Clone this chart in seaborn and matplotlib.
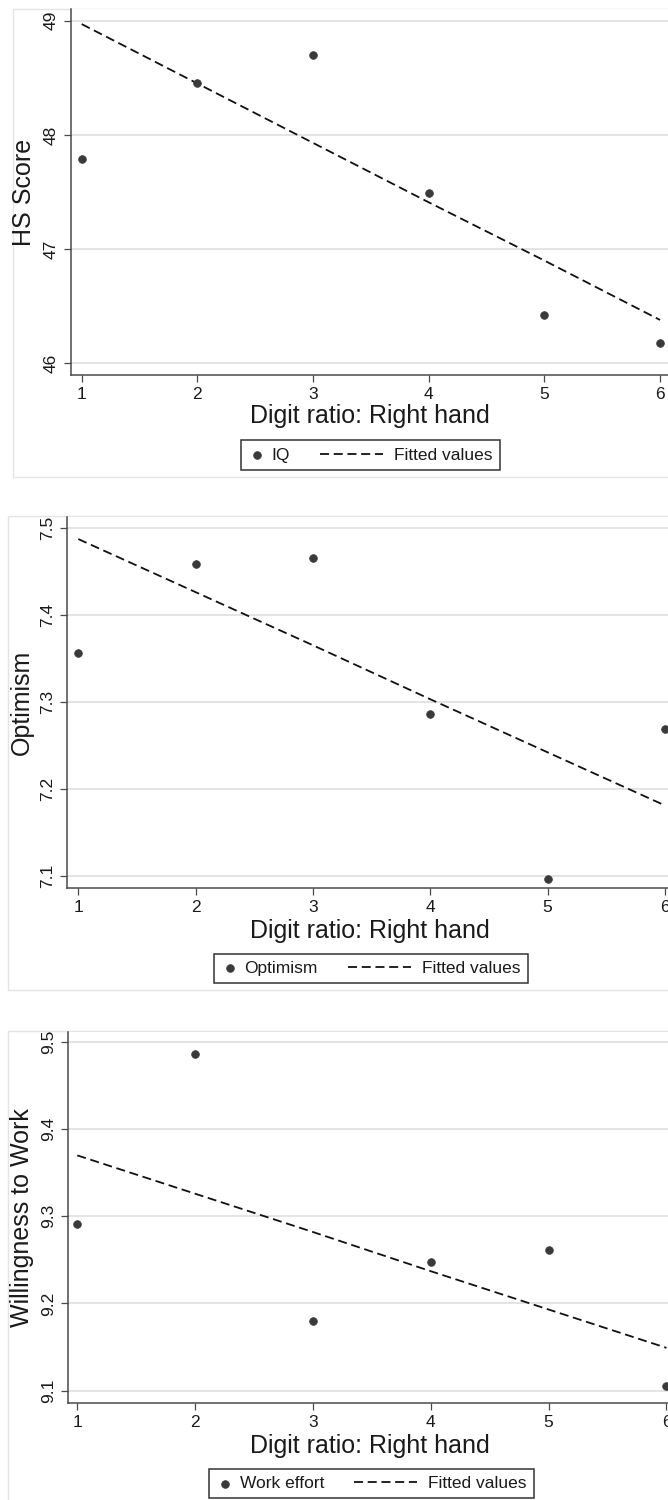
import numpy as np
import pandas as pd
import seaborn as sns
import matplotlib.pyplot as plt
from matplotlib.lines import Line2D
from matplotlib.legend_handler import HandlerLine2D
from matplotlib.patches import Rectangle

# values
digit_ratio = [1, 2, 3, 4, 5, 6]

hs_score = [47.79, 48.45, 48.70, 47.49, 46.42, 46.18]
hs_fitted = [48.97, 48.45, 47.93, 47.41, 46.90, 46.38]
hs_ticks = [46, 47, 48, 49]
hs_ticklabels = ["46", "47", "48", "49"]

optimism = [7.356, 7.458, 7.465, 7.286, 7.097, 7.269]
optimism_fitted = [7.487, 7.426, 7.365, 7.303, 7.242, 7.181]
opt_ticks = [7.1, 7.2, 7.3, 7.4, 7.5]
opt_ticklabels = ["7.1", "7.2", "7.3", "7.4", "7.5"]

work_effort = [9.291, 9.486, 9.180, 9.248, 9.261, 9.105]
work_fitted = [9.370, 9.326, 9.282, 9.237, 9.193, 9.149]
work_ticks = [9.1, 9.2, 9.3, 9.4, 9.5]
work_ticklabels = ["9.1", "9.2", "9.3", "9.4", "9.5"]

x_ticks = [1, 2, 3, 4, 5, 6]
x_label = "Digit ratio: Right hand"

W, H = 668, 1500

sns.set_style("white")
plt.rcParams['font.family'] = ['Liberation Sans', 'DejaVu Sans']

INK = '#1a1a1a'
AXC = '#4a4a4a'
DOT = '#3a3a3a'


class LongDash(HandlerLine2D):
    # dashed legend line that reaches back into the column gap, like Stata's
    def create_artists(self, legend, orig_handle, xdescent, ydescent,
                       width, height, fontsize, trans):
        y = (height - ydescent) / 2
        x1 = -xdescent + width - 0.28 * fontsize
        x0 = x1 - 3.65 * fontsize
        line = Line2D([x0, x1], [y, y])
        self.update_prop(line, orig_handle, legend)
        line.set_transform(trans)
        return [line]


panels = [
    dict(y=hs_score, fit=hs_fitted, name="IQ", ylabel="HS Score",
         ticks=hs_ticks, ticklabels=hs_ticklabels,
         box=(70.7, 671, 9, 375), xlim=(0.905, 6.095), ylim=(45.898, 49.102),
         ylab_x=24.5, xlab_y=416, leg=(370.3, 455), frame=(12.7, 9, 476.7)),
    dict(y=optimism, fit=optimism_fitted, name="Optimism", ylabel="Optimism",
         ticks=opt_ticks, ticklabels=opt_ticklabels,
         box=(67.3, 676, 516.7, 887.7), xlim=(0.906, 6.094), ylim=(7.0865, 7.5127),
         ylab_x=21.6, xlab_y=931, leg=(370.8, 968.4), frame=(8.3, 516, 990)),
    dict(y=work_effort, fit=work_fitted, name="Work effort", ylabel="Willingness to Work",
         ticks=work_ticks, ticklabels=work_ticklabels,
         box=(67.7, 676, 1031.7, 1402.7), xlim=(0.919, 6.081), ylim=(9.086, 9.512),
         ylab_x=21.6, xlab_y=1445.5, leg=(371.4, 1483.5), frame=(8.3, 1031, 1520)),
]

fig = plt.figure(figsize=(W / 100, H / 100), dpi=100)
fig.patch.set_facecolor('white')

for p in panels:
    fx0, ftop, fbot = p['frame']
    fig.add_artist(Rectangle((fx0 / W, 1 - fbot / H), (W + 20 - fx0) / W, (fbot - ftop) / H,
                             transform=fig.transFigure, fill=False,
                             ec='#e4e4e4', lw=1.0, zorder=0))

    l, r, t, b = p['box']
    ax = fig.add_axes([l / W, 1 - b / H, (r - l) / W, (b - t) / H])
    ax.set_facecolor('white')

    sns.scatterplot(x=digit_ratio, y=p['y'], ax=ax, color=DOT, s=30,
                    edgecolor=DOT, linewidth=0.6, label=p['name'], zorder=3)
    sns.lineplot(x=digit_ratio, y=p['fit'], ax=ax, color='#111111', lw=1.3,
                 linestyle=(0, (5.0, 2.6)), errorbar=None,
                 label="Fitted values", zorder=2)

    ax.set_xlim(*p['xlim'])
    ax.set_ylim(*p['ylim'])
    ax.set_xticks(x_ticks)
    ax.set_xticklabels([str(v) for v in x_ticks])
    ax.set_yticks(p['ticks'])
    ax.set_yticklabels(p['ticklabels'])

    ax.set_axisbelow(True)
    ax.yaxis.grid(True, color='#dddddd', lw=1.1)
    ax.xaxis.grid(False)
    for side in ['top', 'right']:
        ax.spines[side].set_visible(False)
    for side in ['left', 'bottom']:
        ax.spines[side].set_color(AXC)
        ax.spines[side].set_linewidth(1.1)

    ax.tick_params(axis='both', direction='out', length=5, width=0.9,
                   color=AXC, labelsize=12.5, labelcolor=INK,
                   bottom=True, left=True)
    ax.tick_params(axis='x', pad=3.5)
    ax.tick_params(axis='y', pad=3.5)
    for lab in ax.get_yticklabels():
        lab.set_rotation(90)
        lab.set_va('center')
        lab.set_ha('right')

    ax.set_xlabel(x_label, fontsize=18, color=INK, va='center')
    ax.xaxis.set_label_coords((370 - l) / (r - l), (b - p['xlab_y']) / (b - t))
    ax.set_ylabel(p['ylabel'], fontsize=18, color=INK, va='center')
    ax.yaxis.set_label_coords((p['ylab_x'] - l) / (r - l), 0.5)

    handles, labels = ax.get_legend_handles_labels()
    lx, ly = p['leg']
    leg = ax.legend(handles, labels, loc='center', ncol=2,
                    bbox_to_anchor=(lx / W, 1 - ly / H), bbox_transform=fig.transFigure,
                    fontsize=12.5, frameon=True, fancybox=False, framealpha=1,
                    edgecolor='#333333', handlelength=1.0, handletextpad=0.35,
                    columnspacing=4.64, borderpad=0.42, scatterpoints=1,
                    handler_map={Line2D: LongDash()})
    leg.get_frame().set_linewidth(1.1)
    for txt in leg.get_texts():
        txt.set_color(INK)

fig.savefig("out.png", dpi=100, facecolor='white')
